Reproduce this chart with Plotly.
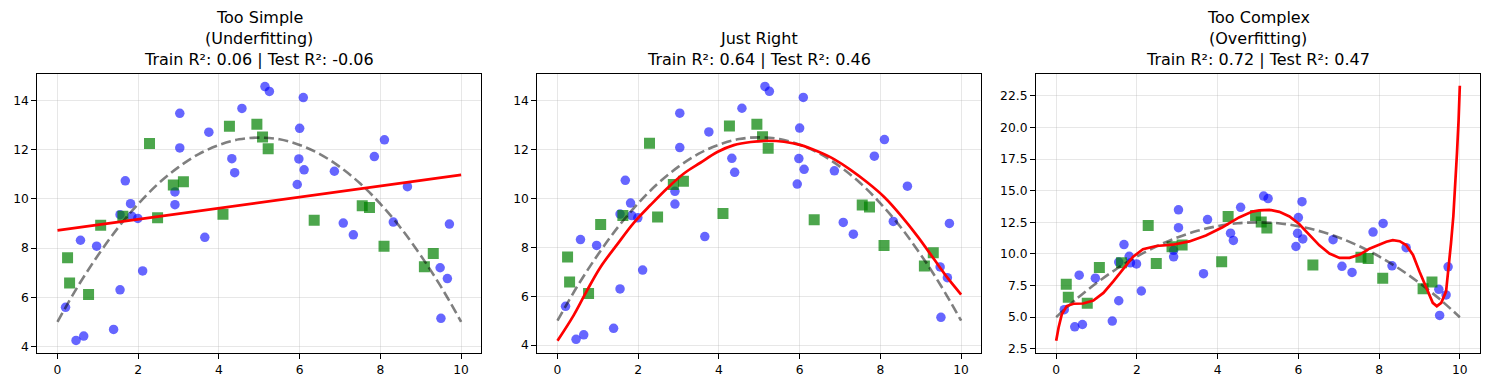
import plotly.graph_objects as go

# ---------------- data ----------------
train_x = [0.20, 0.46, 0.65, 0.57, 0.97, 1.39, 1.55, 1.55, 1.68, 1.81, 1.84, 1.99, 2.11,
           2.91, 2.91, 3.03, 3.03, 3.65, 3.75, 4.32, 4.39, 4.57, 5.14, 5.25, 6.09, 6.00,
           5.98, 6.11, 5.94, 6.86, 7.08, 7.33, 7.85, 8.10, 8.32, 8.67, 9.48, 9.66, 9.71, 9.50]
train_y = [5.59, 4.24, 4.42, 8.32, 8.08, 4.69, 6.30, 9.36, 10.74, 9.81, 9.30, 9.21, 7.07,
           9.77, 10.29, 13.49, 12.08, 8.44, 12.72, 11.64, 11.07, 13.69, 14.58, 14.38, 14.13, 12.88,
           11.63, 11.19, 10.59, 11.13, 9.02, 8.54, 11.73, 12.41, 9.06, 10.50, 7.20, 6.76, 8.98, 5.14]

test_x = [0.25, 0.30, 0.77, 1.07, 1.62, 2.28, 2.48, 2.87, 3.12, 4.10,
          4.26, 4.94, 5.08, 5.22, 6.36, 7.55, 7.73, 8.09, 9.09, 9.31]
test_y = [7.61, 6.58, 6.11, 8.93, 9.30, 12.26, 9.24, 10.57, 10.70, 9.38,
          12.96, 13.04, 12.52, 12.05, 9.13, 9.73, 9.65, 8.08, 7.24, 7.78]

true_x = [0, 0.5, 1, 1.5, 2, 2.5, 3, 3.5, 4, 4.5, 5, 5.5, 6, 6.5, 7, 7.5, 8, 8.5, 9, 9.5, 10]
true_y = [5.0, 6.43, 7.7, 8.83, 9.8, 10.63, 11.3, 11.83, 12.2, 12.43, 12.5,
          12.43, 12.2, 11.83, 11.3, 10.63, 9.8, 8.83, 7.7, 6.43, 5.0]

simple_x = [0, 10]
simple_y = [8.72, 10.98]

right_x = [0, 0.40, 0.73, 1.06, 1.48, 1.89, 2.31, 2.72, 3.14, 3.54, 3.96, 4.37, 4.79,
           5.20, 5.61, 6.03, 6.44, 6.86, 7.27, 7.68, 8.10, 8.51, 8.93, 9.34, 9.67, 10.0]
right_y = [4.18, 5.22, 6.23, 7.18, 8.12, 9.00, 9.74, 10.42, 11.03, 11.46, 11.90, 12.18, 12.31,
           12.36, 12.32, 12.18, 11.93, 11.60, 11.16, 10.65, 10.05, 9.30, 8.43, 7.49, 6.74, 6.07]

complex_x = [0, 0.06, 0.14, 0.26, 0.43, 0.67, 0.92, 1.17, 1.41, 1.66, 1.90, 2.15, 2.48, 2.89,
             3.30, 3.71, 4.12, 4.53, 4.86, 5.03, 5.28, 5.53, 5.78, 6.02, 6.27, 6.52, 6.77,
             7.02, 7.27, 7.52, 7.76, 8.01, 8.18, 8.34, 8.51, 8.67, 8.84, 9.00, 9.17, 9.33,
             9.43, 9.54, 9.66, 9.72, 9.78, 9.84, 9.89, 9.93, 9.97, 10.0]
complex_y = [3.13, 4.19, 5.23, 5.88, 6.06, 6.08, 6.32, 6.92, 7.82, 8.86, 9.77, 10.37, 10.63, 10.73,
             10.99, 11.46, 12.11, 12.89, 13.35, 13.44, 13.49, 13.33, 12.97, 12.37, 11.51, 10.68, 10.03,
             9.69, 9.69, 9.95, 10.42, 10.78, 10.96, 11.09, 11.01, 10.70, 9.92, 8.61, 7.30, 6.13,
             5.87, 6.13, 7.04, 8.80, 10.80, 13.00, 15.50, 18.00, 20.60, 23.30]

titles = [["Too Simple", "(Underfitting)", "Train R²: 0.06 | Test R²: -0.06"],
          ["Just Right", "", "Train R²: 0.64 | Test R²: 0.46"],
          ["Too Complex", "(Overfitting)", "Train R²: 0.72 | Test R²: 0.47"]]
fits = [(simple_x, simple_y, "spline"), (right_x, right_y, "spline"), (complex_x, complex_y, "linear")]

x_ticks = [0, 2, 4, 6, 8, 10]
y_ticks_12 = [4, 6, 8, 10, 12, 14]
y_ticks_3 = [2.5, 5.0, 7.5, 10.0, 12.5, 15.0, 17.5, 20.0, 22.5]
y_ranges = [[3.72, 15.1], [3.67, 15.1], [2.15, 24.25]]

# ---------------- figure ----------------
# page body has an 8px margin: lay the figure out in page pixels minus 8
OFF = 8
W, H = 1489 - 2 * OFF, 390 - 2 * OFF
FONT = "DejaVu Sans"
px_domains = [(37.3, 481.3), (537.3, 981.3), (1036, 1480)]
y_dom = [(H - (356 - OFF)) / H, (H - (74.3 - OFF)) / H]

fig = go.Figure()
for i in range(3):
    xa = "x" if i == 0 else f"x{i+1}"
    ya = "y" if i == 0 else f"y{i+1}"
    fig.add_trace(go.Scatter(x=train_x, y=train_y, mode="markers", xaxis=xa, yaxis=ya,
                             marker=dict(color="blue", size=9.5, opacity=0.6, line=dict(width=0)),
                             showlegend=False))
    fig.add_trace(go.Scatter(x=test_x, y=test_y, mode="markers", xaxis=xa, yaxis=ya,
                             marker=dict(color="green", symbol="square", size=11, opacity=0.7,
                                         line=dict(width=0)),
                             showlegend=False))
    fig.add_trace(go.Scatter(x=true_x, y=true_y, mode="lines", xaxis=xa, yaxis=ya,
                             line=dict(color="rgba(0,0,0,0.5)", width=2.6, dash="10px,4.5px",
                                       shape="spline"),
                             showlegend=False))
    fx, fy, shp = fits[i]
    fig.add_trace(go.Scatter(x=fx, y=fy, mode="lines", xaxis=xa, yaxis=ya,
                             line=dict(color="red", width=2.7, shape=shp),
                             showlegend=False))

    axis_common = dict(showline=True, mirror=True, linecolor="black", linewidth=1.1,
                       ticks="outside", ticklen=5, tickwidth=1.1, tickcolor="black",
                       showgrid=True, gridcolor="rgba(176,176,176,0.3)", gridwidth=1.1,
                       zeroline=False, tickfont=dict(family=FONT, size=12.3, color="black"))
    l, r = px_domains[i]
    fig.layout[("xaxis" if i == 0 else f"xaxis{i+1}")] = dict(
        domain=[(l - OFF) / W, (r - OFF) / W], range=[-0.5, 10.5], tickvals=x_ticks,
        anchor=ya, **axis_common)
    yt = y_ticks_3 if i == 2 else y_ticks_12
    fig.layout[("yaxis" if i == 0 else f"yaxis{i+1}")] = dict(
        domain=y_dom, range=y_ranges[i], tickvals=yt,
        ticktext=[f"{v:.1f}" for v in yt] if i == 2 else [str(v) for v in yt],
        anchor=xa, **axis_common)

    cx = ((l + r) / 2 - OFF) / W
    lines = [t for t in titles[i] if t]
    ys = [18, 39, 60] if len(lines) == 3 else [39, 60]
    for t, yy in zip(lines, ys):
        fig.add_annotation(text=t, x=cx, y=1 - (yy - OFF) / H, xref="paper", yref="paper",
                           xanchor="center", yanchor="middle", showarrow=False,
                           font=dict(family=FONT, size=16, color="black"))

fig.update_layout(width=W, height=H, margin=dict(l=0, r=0, t=0, b=0),
                  plot_bgcolor="white", paper_bgcolor="white",
                  font=dict(family=FONT, color="black"))

fig.write_html("out.html")
